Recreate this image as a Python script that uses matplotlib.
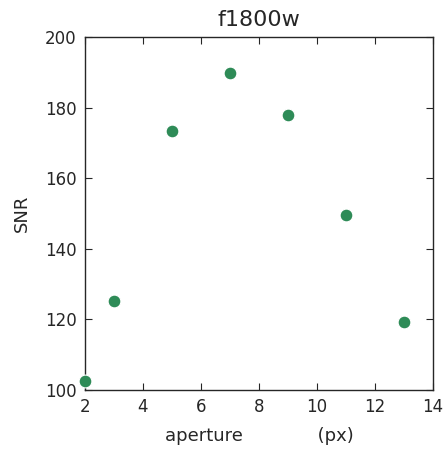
import matplotlib
matplotlib.use("Agg")
import matplotlib.pyplot as plt

aperture = [2, 3, 5, 7, 9, 11, 13]
snr = [102.5, 125.3, 173.4, 189.8, 177.9, 149.7, 119.4]
xticks = [2, 4, 6, 8, 10, 12, 14]
yticks = [100, 120, 140, 160, 180, 200]

plt.rcParams['font.family'] = ['DejaVu Sans']
fig = plt.figure(figsize=(4.47, 4.5), dpi=100)
ax = fig.add_axes([0.190, 0.1333, 0.779, 0.7845])
ax.scatter(aperture, snr, s=85, color='#2E8B57', edgecolors='white', linewidths=0.8, zorder=3, clip_on=False)
ax.set_xlim(2, 14)
ax.set_ylim(100, 200)
ax.set_xticks(xticks)
ax.set_yticks(yticks)
ax.tick_params(direction='in', top=True, right=True, length=5, width=0.8,
               labelsize=12, colors='#262626', pad=6)
for s in ax.spines.values():
    s.set_color('#262626')
    s.set_linewidth(1.0)
ax.set_title('f1800w', fontsize=16, color='#262626', pad=8)
ax.set_xlabel('aperture' + ' ' * 13 + '(px)', fontsize=13, color='#262626', labelpad=8)
ax.set_ylabel('SNR', fontsize=13, color='#262626', labelpad=10)
fig.savefig('out.png', dpi=100)
